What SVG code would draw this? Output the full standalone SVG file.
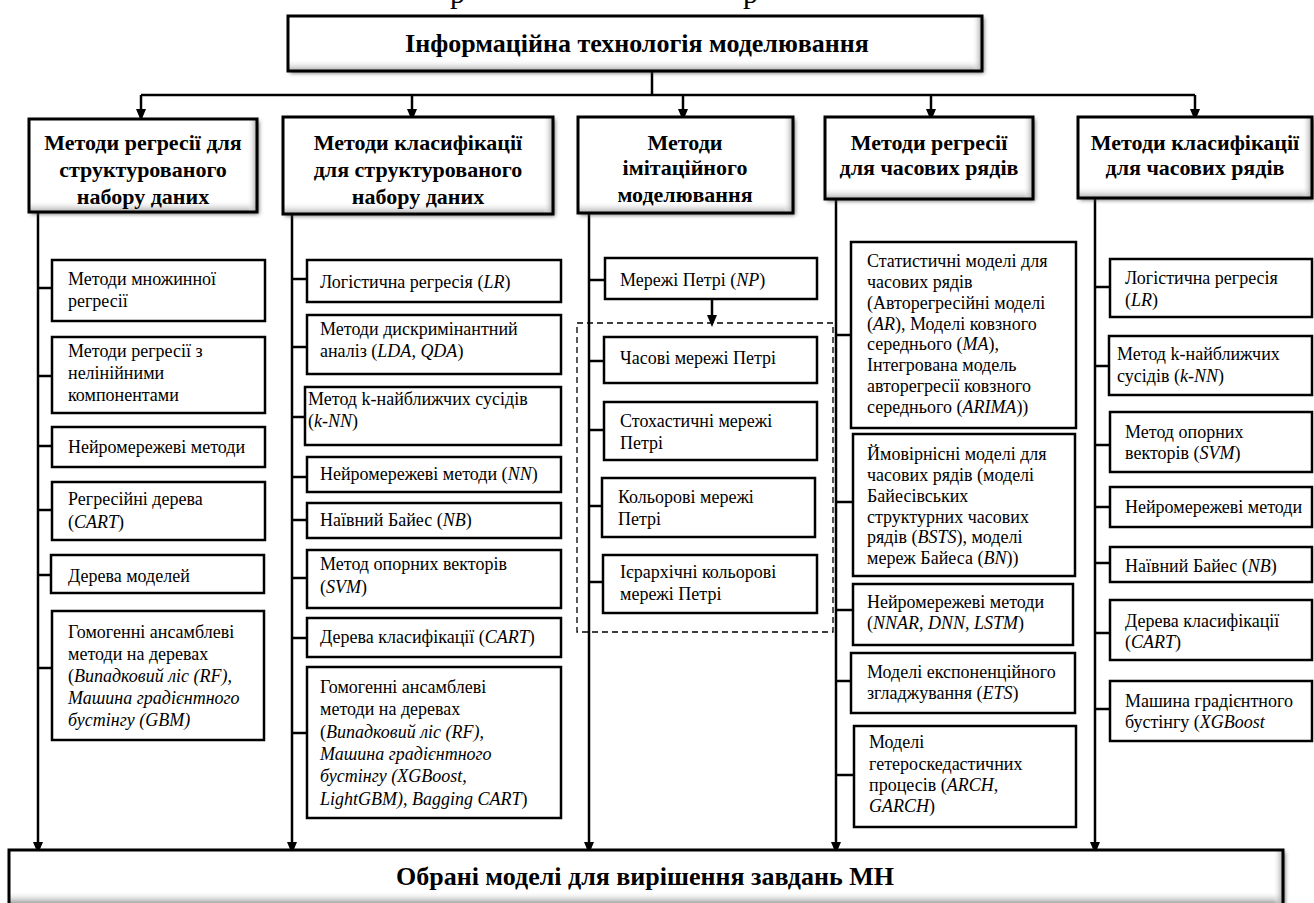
<svg xmlns="http://www.w3.org/2000/svg" width="1314" height="903" viewBox="0 0 1314 903">
<defs>
<style>
  text{font-family:"Liberation Serif","Times New Roman",serif;fill:#000}
  .t{font-size:18px}
  .h{font-size:22px;font-weight:bold;text-anchor:middle}
  .big{font-size:26px;font-weight:bold;text-anchor:middle}
  .i{font-style:italic}
  .box{fill:#fff;stroke:#000;stroke-width:2.5}
  .hf{fill:#fff;filter:url(#sh)}
  .hs{fill:none;stroke:#000;stroke-width:3}
  .bb{fill:url(#gb)}
  .br{fill:url(#gr)}
  .ln{fill:none;stroke:#000;stroke-width:2.5}
  .ar{fill:none;stroke:#000;stroke-width:2.5;marker-end:url(#ah)}
  .dash{fill:none;stroke:#000;stroke-width:1.3;stroke-dasharray:6 4}
</style>
<marker id="ah" viewBox="0 0 12 10" refX="8" refY="5" markerWidth="12" markerHeight="10" orient="auto" markerUnits="userSpaceOnUse">
  <path d="M0,0 L12,5 L0,10 z" fill="#000"/>
</marker>
<linearGradient id="gb" x1="0" y1="0" x2="0" y2="1">
  <stop offset="0" stop-color="#fff" stop-opacity="0"/>
  <stop offset="1" stop-color="#a8a8a8"/>
</linearGradient>
<linearGradient id="gr" x1="0" y1="0" x2="1" y2="0">
  <stop offset="0" stop-color="#fff" stop-opacity="0"/>
  <stop offset="1" stop-color="#a0a0a0"/>
</linearGradient>
<filter id="sh" x="-5%" y="-10%" width="115%" height="130%">
  <feDropShadow dx="2" dy="2" stdDeviation="2" flood-color="#444" flood-opacity="0.8"/>
</filter>
</defs>

<!-- descenders of the caption line above, cut by the page edge -->
<text x="450" y="3" style="font-size:30px">р</text>
<text x="743" y="3" style="font-size:30px">р</text>

<!-- connectors -->
<g id="connectors">
  <path class="ln" d="M652,71 V95 M141,95 H1195"/>
  <path class="ar" d="M141,95 V117"/>
  <path class="ar" d="M412,95 V117"/>
  <path class="ar" d="M683,95 V117"/>
  <path class="ar" d="M931,95 V117"/>
  <path class="ar" d="M1195,95 V117"/>
  <!-- vertical buses into the result box -->
  <path class="ar" d="M38,212 V850"/>
  <path class="ar" d="M292,214 V850"/>
  <path class="ar" d="M589,213 V850"/>
  <path class="ar" d="M836,199 V850"/>
  <path class="ar" d="M1095,198 V850"/>
  <!-- column 1 stubs -->
  <path class="ln" d="M38,288 H52 M38,376 H52 M38,446 H52 M38,510 H52 M38,575 H51 M38,668 H52"/>
  <!-- column 2 stubs -->
  <path class="ln" d="M292,279 H307 M292,347 H307 M292,417 H305 M292,477 H307 M292,520 H307 M292,578 H307 M292,638 H307 M292,733 H307"/>
  <!-- column 3 stubs -->
  <path class="ln" d="M589,280 H605 M589,361 H604 M589,430 H604 M589,506 H602 M589,582 H603"/>
  <path class="ar" d="M712,299 V323"/>
  <!-- column 4 stubs -->
  <path class="ln" d="M836,335 H851 M836,502 H853 M836,610 H853 M836,681 H851 M836,775 H854"/>
  <!-- column 5 stubs -->
  <path class="ln" d="M1095,287 H1110 M1095,366 H1109 M1095,445 H1110 M1095,507 H1110 M1095,563 H1110 M1095,633 H1110 M1095,709 H1110"/>
</g>

<!-- dashed frame around Petri net variants -->
<rect id="petri-group" class="dash" x="577" y="323" width="256" height="309"/>

<!-- top node -->
<g id="root">
  <rect class="hf" x="288" y="16" width="694" height="55"/>
  <rect class="bb" x="288" y="59" width="694" height="12"/>
  <rect class="br" x="972" y="16" width="10" height="55"/>
  <rect class="hs" x="288" y="16" width="694" height="55"/>
  <text class="big" x="637" y="52">Інформаційна технологія моделювання</text>
</g>

<!-- category nodes -->
<g id="cat-reg-struct">
  <rect class="hf" x="29" y="119" width="228" height="93"/>
  <rect class="bb" x="29" y="200" width="228" height="12"/>
  <rect class="br" x="247" y="119" width="10" height="93"/>
  <rect class="hs" x="29" y="119" width="228" height="93"/>
  <text class="h" x="143" y="150">Методи регресії для</text>
  <text class="h" x="143" y="177">структурованого</text>
  <text class="h" x="143" y="204">набору даних</text>
</g>
<g id="cat-cls-struct">
  <rect class="hf" x="283" y="117" width="270" height="97"/>
  <rect class="bb" x="283" y="202" width="270" height="12"/>
  <rect class="br" x="543" y="117" width="10" height="97"/>
  <rect class="hs" x="283" y="117" width="270" height="97"/>
  <text class="h" x="418" y="150">Методи класифікації</text>
  <text class="h" x="418" y="177">для структурованого</text>
  <text class="h" x="418" y="204">набору даних</text>
</g>
<g id="cat-sim">
  <rect class="hf" x="578" y="117" width="215" height="96"/>
  <rect class="bb" x="578" y="201" width="215" height="12"/>
  <rect class="br" x="783" y="117" width="10" height="96"/>
  <rect class="hs" x="578" y="117" width="215" height="96"/>
  <text class="h" x="685" y="150">Методи</text>
  <text class="h" x="685" y="175">імітаційного</text>
  <text class="h" x="685" y="202">моделювання</text>
</g>
<g id="cat-reg-ts">
  <rect class="hf" x="825" y="117" width="208" height="82"/>
  <rect class="bb" x="825" y="187" width="208" height="12"/>
  <rect class="br" x="1023" y="117" width="10" height="82"/>
  <rect class="hs" x="825" y="117" width="208" height="82"/>
  <text class="h" x="929" y="150">Методи регресії</text>
  <text class="h" x="929" y="175">для часових рядів</text>
</g>
<g id="cat-cls-ts">
  <rect class="hf" x="1078" y="117" width="234" height="81"/>
  <rect class="bb" x="1078" y="186" width="234" height="12"/>
  <rect class="br" x="1302" y="117" width="10" height="81"/>
  <rect class="hs" x="1078" y="117" width="234" height="81"/>
  <text class="h" x="1195" y="150">Методи класифікації</text>
  <text class="h" x="1195" y="175">для часових рядів</text>
</g>

<!-- column 1: regression, structured data -->
<g id="r1">
  <rect class="box" x="52" y="260" width="213" height="61"/>
  <text class="t" x="68" y="285">Методи множинної</text>
  <text class="t" x="68" y="307">регресії</text>
</g>
<g id="r2">
  <rect class="box" x="52" y="337" width="213" height="76"/>
  <text class="t" x="68" y="357">Методи регресії з</text>
  <text class="t" x="68" y="379">нелінійними</text>
  <text class="t" x="68" y="401">компонентами</text>
</g>
<g id="r3">
  <rect class="box" x="52" y="427" width="213" height="40"/>
  <text class="t" x="68" y="453">Нейромережеві методи</text>
</g>
<g id="r4">
  <rect class="box" x="52" y="482" width="213" height="58"/>
  <text class="t" x="68" y="505">Регресійні дерева</text>
  <text class="t" x="68" y="528">(<tspan class="i">CART</tspan>)</text>
</g>
<g id="r5">
  <rect class="box" x="51" y="555" width="213" height="38"/>
  <text class="t" x="68" y="582">Дерева моделей</text>
</g>
<g id="r6">
  <rect class="box" x="52" y="611" width="212" height="129"/>
  <text class="t" x="68" y="638">Гомогенні ансамблеві</text>
  <text class="t" x="68" y="660">методи на деревах</text>
  <text class="t" x="68" y="682">(<tspan class="i">Випадковий ліс (RF),</tspan></text>
  <text class="t i" x="68" y="704">Машина градієнтного</text>
  <text class="t i" x="68" y="726">бустінгу (GBM)</text>
</g>

<!-- column 2: classification, structured data -->
<g id="c1">
  <rect class="box" x="307" y="260" width="254" height="42"/>
  <text class="t" x="320" y="288">Логістична регресія (<tspan class="i">LR</tspan>)</text>
</g>
<g id="c2">
  <rect class="box" x="307" y="315" width="254" height="59"/>
  <text class="t" x="320" y="335">Методи дискримінантний</text>
  <text class="t" x="320" y="357">аналіз (<tspan class="i">LDA</tspan>, <tspan class="i">QDA</tspan>)</text>
</g>
<g id="c3">
  <rect class="box" x="305" y="387" width="256" height="58"/>
  <text class="t" x="308" y="405">Метод k-найближчих сусідів</text>
  <text class="t" x="308" y="427">(<tspan class="i">k-NN</tspan>)</text>
</g>
<g id="c4">
  <rect class="box" x="307" y="457" width="254" height="35"/>
  <text class="t" x="320" y="480">Нейромережеві методи (<tspan class="i">NN</tspan>)</text>
</g>
<g id="c5">
  <rect class="box" x="307" y="503" width="254" height="35"/>
  <text class="t" x="320" y="526">Наївний Байес (<tspan class="i">NB</tspan>)</text>
</g>
<g id="c6">
  <rect class="box" x="307" y="550" width="254" height="58"/>
  <text class="t" x="320" y="570">Метод опорних векторів</text>
  <text class="t" x="320" y="593">(<tspan class="i">SVM</tspan>)</text>
</g>
<g id="c7">
  <rect class="box" x="307" y="618" width="254" height="39"/>
  <text class="t" x="320" y="643">Дерева класифікації (<tspan class="i">CART</tspan>)</text>
</g>
<g id="c8">
  <rect class="box" x="307" y="667" width="254" height="151"/>
  <text class="t" x="320" y="693">Гомогенні ансамблеві</text>
  <text class="t" x="320" y="715">методи на деревах</text>
  <text class="t" x="320" y="738">(<tspan class="i">Випадковий ліс (RF),</tspan></text>
  <text class="t i" x="320" y="760">Машина градієнтного</text>
  <text class="t i" x="320" y="782">бустінгу (XGBoost,</text>
  <text class="t" x="320" y="805"><tspan class="i">LightGBM), Bagging CART</tspan>)</text>
</g>

<!-- column 3: simulation -->
<g id="s1">
  <rect class="box" x="605" y="258" width="212" height="41"/>
  <text class="t" x="620" y="286">Мережі Петрі (<tspan class="i">NP</tspan>)</text>
</g>
<g id="s2">
  <rect class="box" x="604" y="337" width="213" height="46"/>
  <text class="t" x="620" y="364">Часові мережі Петрі</text>
</g>
<g id="s3">
  <rect class="box" x="604" y="402" width="213" height="58"/>
  <text class="t" x="620" y="427">Стохастичні мережі</text>
  <text class="t" x="620" y="449">Петрі</text>
</g>
<g id="s4">
  <rect class="box" x="602" y="478" width="213" height="59"/>
  <text class="t" x="618" y="503">Кольорові мережі</text>
  <text class="t" x="618" y="525">Петрі</text>
</g>
<g id="s5">
  <rect class="box" x="603" y="555" width="214" height="58"/>
  <text class="t" x="620" y="578">Ієрархічні кольорові</text>
  <text class="t" x="620" y="600">мережі Петрі</text>
</g>

<!-- column 4: regression, time series -->
<g id="t1">
  <rect class="box" x="851" y="242" width="225" height="186"/>
  <text class="t" x="867" y="267">Статистичні моделі для</text>
  <text class="t" x="867" y="288">часових рядів</text>
  <text class="t" x="867" y="309">(Авторегресійні моделі</text>
  <text class="t" x="867" y="330">(<tspan class="i">AR</tspan>), Моделі ковзного</text>
  <text class="t" x="867" y="350">середнього (<tspan class="i">MA</tspan>),</text>
  <text class="t" x="867" y="371">Інтегрована модель</text>
  <text class="t" x="867" y="392">авторегресії ковзного</text>
  <text class="t" x="867" y="413">середнього (<tspan class="i">ARIMA</tspan>))</text>
</g>
<g id="t2">
  <rect class="box" x="853" y="434" width="222" height="142"/>
  <text class="t" x="867" y="460">Ймовірнісні моделі для</text>
  <text class="t" x="867" y="481">часових рядів (моделі</text>
  <text class="t" x="867" y="502">Байесівських</text>
  <text class="t" x="867" y="523">структурних часових</text>
  <text class="t" x="867" y="543">рядів (<tspan class="i">BSTS</tspan>), моделі</text>
  <text class="t" x="867" y="564">мереж Байеса (<tspan class="i">BN</tspan>))</text>
</g>
<g id="t3">
  <rect class="box" x="853" y="584" width="220" height="61"/>
  <text class="t" x="867" y="608">Нейромережеві методи</text>
  <text class="t" x="867" y="629">(<tspan class="i">NNAR</tspan>, <tspan class="i">DNN</tspan>, <tspan class="i">LSTM</tspan>)</text>
</g>
<g id="t4">
  <rect class="box" x="851" y="653" width="224" height="60"/>
  <text class="t" x="867" y="678">Моделі експоненційного</text>
  <text class="t" x="867" y="699">згладжування (<tspan class="i">ETS</tspan>)</text>
</g>
<g id="t5">
  <rect class="box" x="854" y="726" width="222" height="101"/>
  <text class="t" x="869" y="748">Моделі</text>
  <text class="t" x="869" y="770">гетероскедастичних</text>
  <text class="t" x="869" y="791">процесів (<tspan class="i">ARCH</tspan>,</text>
  <text class="t" x="869" y="812"><tspan class="i">GARCH</tspan>)</text>
</g>

<!-- column 5: classification, time series -->
<g id="k1">
  <rect class="box" x="1110" y="259" width="202" height="58"/>
  <text class="t" x="1125" y="284">Логістична регресія</text>
  <text class="t" x="1125" y="306">(<tspan class="i">LR</tspan>)</text>
</g>
<g id="k2">
  <rect class="box" x="1109" y="336" width="203" height="59"/>
  <text class="t" x="1117" y="360">Метод k-найближчих</text>
  <text class="t" x="1117" y="382">сусідів (<tspan class="i">k-NN</tspan>)</text>
</g>
<g id="k3">
  <rect class="box" x="1110" y="412" width="202" height="60"/>
  <text class="t" x="1125" y="438">Метод опорних</text>
  <text class="t" x="1125" y="459">векторів (<tspan class="i">SVM</tspan>)</text>
</g>
<g id="k4">
  <rect class="box" x="1110" y="487" width="202" height="40"/>
  <text class="t" x="1125" y="513">Нейромережеві методи</text>
</g>
<g id="k5">
  <rect class="box" x="1110" y="547" width="202" height="35"/>
  <text class="t" x="1125" y="572">Наївний Байес (<tspan class="i">NB</tspan>)</text>
</g>
<g id="k6">
  <rect class="box" x="1110" y="600" width="202" height="60"/>
  <text class="t" x="1125" y="627">Дерева класифікації</text>
  <text class="t" x="1125" y="648">(<tspan class="i">CART</tspan>)</text>
</g>
<g id="k7">
  <rect class="box" x="1110" y="681" width="202" height="60"/>
  <text class="t" x="1125" y="707">Машина градієнтного</text>
  <text class="t" x="1125" y="728">бустінгу (<tspan class="i">XGBoost</tspan></text>
</g>

<!-- result node -->
<g id="result">
  <rect class="hf" x="9" y="850" width="1274" height="56"/>
  <rect class="bb" x="9" y="891" width="1274" height="12"/>
  <rect class="br" x="1273" y="850" width="10" height="56"/>
  <rect class="hs" x="9" y="850" width="1274" height="56"/>
  <text class="big" x="645" y="885">Обрані моделі для вирішення завдань МН</text>
</g>
</svg>
